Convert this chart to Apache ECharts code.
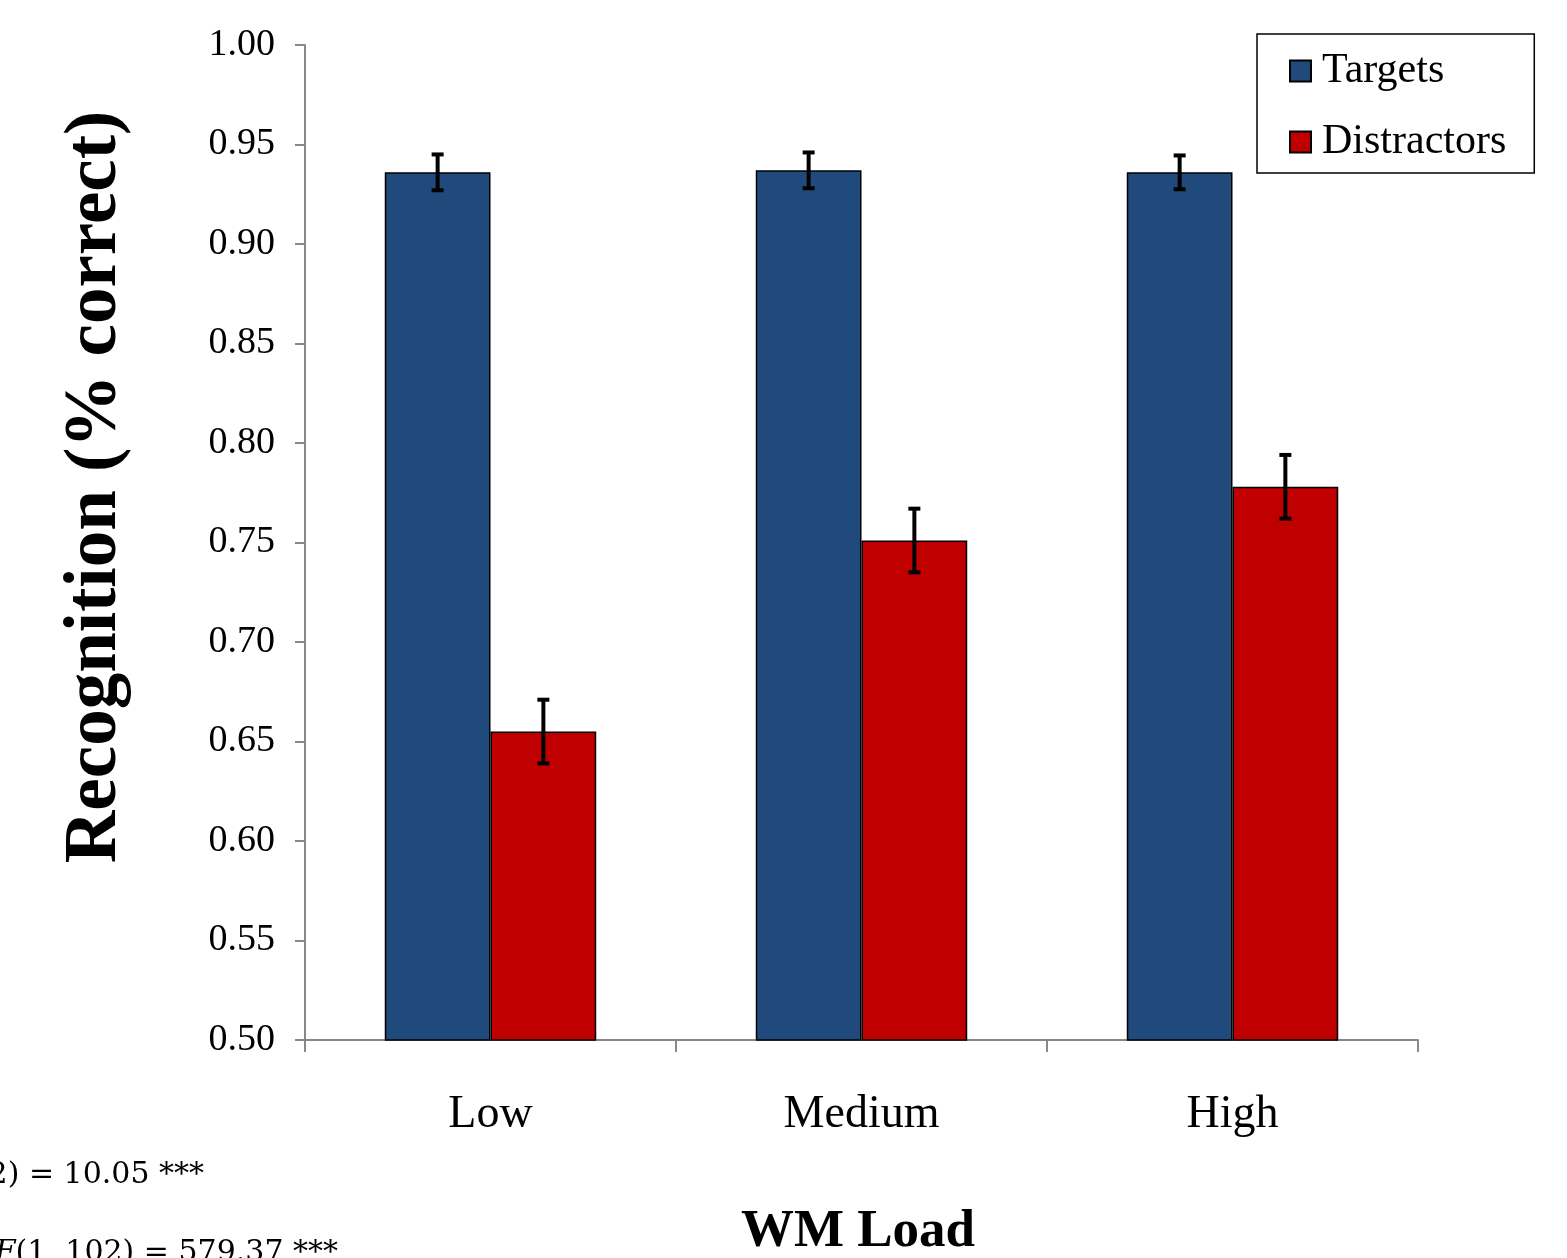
<!DOCTYPE html>
<html>
<head>
<meta charset="utf-8">
<script src="https://cdn.jsdelivr.net/npm/echarts@6/dist/echarts.min.js"></script>
<style>
html,body{margin:0;padding:0;background:#fff;}
#chart{width:1567px;height:1258px;}
</style>
</head>
<body>
<div id="chart"></div>
<script>
const categories = ['Low', 'Medium', 'High'];
const targets = [0.936, 0.937, 0.936];
const distractors = [0.655, 0.751, 0.778];
const targetsErr = [0.009, 0.009, 0.0085];
const distractorsErr = [0.016, 0.016, 0.016];
const yTicks = { min: 0.50, max: 1.00, interval: 0.05 };

const BAR_GAP_FRAC = 0.43;
const barFrac = (1 - BAR_GAP_FRAC) / 2;

function errData(vals, errs) {
  return vals.map((v, i) => [i, v - errs[i], v + errs[i]]);
}
function errRender(sign) {
  return function (params, api) {
    const i = api.value(0);
    const lo = api.coord([i, api.value(1)]);
    const hi = api.coord([i, api.value(2)]);
    const band = api.size([1, 0])[0];
    const x = lo[0] + sign * band * barFrac / 2;
    const cap = 6;
    const st = { stroke: '#000', lineWidth: 4 };
    return {
      type: 'group',
      children: [
        { type: 'line', shape: { x1: x, y1: lo[1], x2: x, y2: hi[1] }, style: st },
        { type: 'line', shape: { x1: x - cap, y1: lo[1], x2: x + cap, y2: lo[1] }, style: st },
        { type: 'line', shape: { x1: x - cap, y1: hi[1], x2: x + cap, y2: hi[1] }, style: st }
      ]
    };
  };
}

const chart = echarts.init(document.getElementById('chart'));
chart.setOption({
  backgroundColor: '#fff',
  animation: false,
  grid: { left: 305, right: 149, top: 45, bottom: 218, containLabel: false },
  legend: {
    orient: 'vertical',
    left: 1257, top: 34,
    padding: [16, 28, 10, 32],
    itemGap: 29,
    itemWidth: 21, itemHeight: 21,
    itemTextGap: 12,
    icon: 'rect',
    borderColor: '#000', borderWidth: 1.5,
    textStyle: { fontFamily: 'Liberation Serif', fontSize: 42, color: '#000', lineHeight: 42, padding: [0, 0, 0, 6] },
    data: ['Targets', 'Distractors']
  },
  xAxis: {
    type: 'category',
    data: categories,
    axisLine: { lineStyle: { color: '#888', width: 2 } },
    axisTick: { show: true, alignWithLabel: false, length: 12, lineStyle: { color: '#888', width: 2 } },
    axisLabel: { fontFamily: 'Liberation Serif', fontSize: 46, color: '#000', margin: 52 }
  },
  yAxis: {
    type: 'value',
    min: yTicks.min, max: yTicks.max, interval: yTicks.interval,
    splitLine: { show: false },
    axisLine: { show: true, lineStyle: { color: '#888', width: 2 } },
    axisTick: { show: true, length: 10, lineStyle: { color: '#888', width: 2 } },
    axisLabel: {
      fontFamily: 'Liberation Serif', fontSize: 38, color: '#000', margin: 30,
      formatter: v => v.toFixed(2)
    }
  },
  series: [
    {
      name: 'Targets', type: 'bar', data: targets,
      barGap: '0%', barCategoryGap: (BAR_GAP_FRAC * 100) + '%',
      itemStyle: { color: '#214A7C', borderColor: '#000', borderWidth: 1.5 }
    },
    {
      name: 'Distractors', type: 'bar', data: distractors,
      itemStyle: { color: '#C00000', borderColor: '#000', borderWidth: 1.5 }
    },
    {
      type: 'custom', renderItem: errRender(-1), data: errData(targets, targetsErr),
      encode: { x: 0, y: [1, 2] }, z: 10, silent: true
    },
    {
      type: 'custom', renderItem: errRender(1), data: errData(distractors, distractorsErr),
      encode: { x: 0, y: [1, 2] }, z: 10, silent: true
    }
  ],
  graphic: [
    {
      type: 'text', x: 96, y: 487, rotation: Math.PI / 2,
      style: {
        text: 'Recognition (% correct)', fontFamily: 'Liberation Serif', fontWeight: 'bold',
        fontSize: 73, fill: '#000', align: 'center', verticalAlign: 'middle'
      }
    },
    {
      type: 'text', x: 858, y: 1232,
      style: {
        text: 'WM Load', fontFamily: 'Liberation Serif', fontWeight: 'bold',
        fontSize: 53, fill: '#000', align: 'center', verticalAlign: 'middle'
      }
    },
    {
      type: 'text', x: 204, y: 1190,
      style: {
        text: '{i|F}(2, 102) = 10.05 ***', align: 'right', verticalAlign: 'bottom',
        fontFamily: 'DejaVu Serif', fontSize: 30, fill: '#000',
        rich: { i: { fontStyle: 'italic', fontFamily: 'DejaVu Serif', fontSize: 30 } }
      }
    },
    {
      type: 'text', x: 338, y: 1268,
      style: {
        text: '{i|F}(1, 102) = 579.37 ***', align: 'right', verticalAlign: 'bottom',
        fontFamily: 'DejaVu Serif', fontSize: 30, fill: '#000',
        rich: { i: { fontStyle: 'italic', fontFamily: 'DejaVu Serif', fontSize: 30 } }
      }
    }
  ]
});
</script>
</body>
</html>
